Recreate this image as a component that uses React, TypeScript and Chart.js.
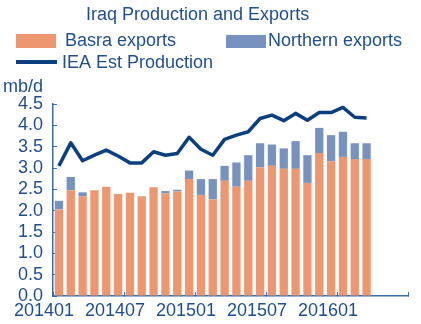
import React, { useEffect, useRef } from 'react';
import { Chart, registerables } from 'chart.js';

Chart.register(...registerables);

const TITLE = 'Iraq Production and Exports';
const UNIT = 'mb/d';

const months = [
  '201401', '201402', '201403', '201404', '201405', '201406',
  '201407', '201408', '201409', '201410', '201411', '201412',
  '201501', '201502', '201503', '201504', '201505', '201506',
  '201507', '201508', '201509', '201510', '201511', '201512',
  '201601', '201602', '201603', '201604', '201605', '201606',
];

const basraExports = [
  2.03, 2.48, 2.34, 2.48, 2.56, 2.39, 2.42, 2.34, 2.55, 2.41, 2.45, 2.74,
  2.37, 2.27, 2.70, 2.56, 2.70, 3.02, 3.05, 2.98, 2.98, 2.65, 3.35, 3.16,
  3.26, 3.21, 3.21,
];

const northernExports = [
  0.20, 0.31, 0.09, 0, 0, 0, 0, 0, 0, 0.05, 0.04, 0.20,
  0.37, 0.47, 0.35, 0.57, 0.60, 0.56, 0.50, 0.48, 0.65, 0.65, 0.59, 0.61,
  0.59, 0.37, 0.37,
];

const ieaProduction = [
  3.05, 3.59, 3.17, 3.30, 3.42, 3.28, 3.12, 3.12, 3.38, 3.30, 3.34, 3.72,
  3.44, 3.30, 3.67, 3.77, 3.85, 4.16, 4.24, 4.11, 4.28, 4.12, 4.30, 4.30,
  4.42, 4.19, 4.17,
];

const FONT = 'Arial, "Liberation Sans", sans-serif';
const TEXT_COLOR = '#1f4e8e';
const AXIS_COLOR = '#3a6cb0';
const BASRA_COLOR = '#ee9670';
const NORTH_COLOR = '#7892c0';
const LINE_COLOR = '#0b3f80';

const overlayPlugin = {
  id: 'overlayText',
  afterDraw(chart: any) {
    const ctx = chart.ctx as CanvasRenderingContext2D;
    const ds = chart.data.datasets;
    ctx.save();
    ctx.font = `18px ${FONT}`;
    ctx.textAlign = 'left';
    ctx.textBaseline = 'alphabetic';
    ctx.fillStyle = TEXT_COLOR;
    ctx.fillText(TITLE, 86, 20);

    // legend row 1
    ctx.fillStyle = BASRA_COLOR;
    ctx.fillRect(16, 34, 40, 14);
    ctx.fillStyle = TEXT_COLOR;
    ctx.fillText(ds[0].label, 65, 46);

    ctx.fillStyle = NORTH_COLOR;
    ctx.fillRect(226, 35, 40, 13);
    ctx.fillStyle = TEXT_COLOR;
    ctx.fillText(ds[1].label, 268, 46);

    // legend row 2
    ctx.strokeStyle = LINE_COLOR;
    ctx.lineWidth = 4;
    ctx.beginPath();
    ctx.moveTo(16, 62);
    ctx.lineTo(57, 62);
    ctx.stroke();
    ctx.fillStyle = TEXT_COLOR;
    ctx.fillText(ds[2].label, 62, 68);

    // unit label
    ctx.fillText(UNIT, 3, 92);
    ctx.restore();
  },
};

export default function App() {
  const canvasRef = useRef<HTMLCanvasElement | null>(null);

  useEffect(() => {
    const canvas = canvasRef.current;
    if (!canvas) return;
    const chart = new Chart(canvas, {
      type: 'bar',
      data: {
        labels: months,
        datasets: [
          {
            type: 'bar',
            label: 'Basra exports',
            data: basraExports,
            backgroundColor: BASRA_COLOR,
            stack: 'exports',
            order: 2,
            categoryPercentage: 1,
            barPercentage: 0.7,
          },
          {
            type: 'bar',
            label: 'Northern exports',
            data: northernExports,
            backgroundColor: NORTH_COLOR,
            stack: 'exports',
            order: 2,
            categoryPercentage: 1,
            barPercentage: 0.7,
          },
          {
            type: 'line',
            label: 'IEA Est Production',
            data: ieaProduction,
            borderColor: LINE_COLOR,
            backgroundColor: LINE_COLOR,
            borderWidth: 3.5,
            pointRadius: 0,
            tension: 0,
            stack: 'production',
            order: 0,
            borderJoinStyle: 'round',
          } as any,
        ],
      },
      options: {
        animation: false,
        responsive: false,
        devicePixelRatio: 1,
        layout: { padding: { top: 104, right: 13, bottom: 0, left: 0 } },
        plugins: {
          legend: { display: false },
          title: { display: false },
          tooltip: { enabled: false },
        },
        scales: {
          x: {
            type: 'category',
            stacked: true,
            offset: true,
            border: { display: true, color: AXIS_COLOR, width: 1.5 },
            grid: {
              offset: true,
              drawOnChartArea: false,
              drawTicks: true,
              tickLength: -4,
              lineWidth: 1,
              color: (c: any) =>
                c.index === undefined || c.index % 6 === 0 ? AXIS_COLOR : 'rgba(0,0,0,0)',
            },
            ticks: {
              autoSkip: false,
              maxRotation: 0,
              minRotation: 0,
              padding: 8,
              labelOffset: -15,
              color: TEXT_COLOR,
              font: { family: FONT, size: 18 },
              callback: (_v: any, i: number) => (i % 6 === 0 ? months[i] : ''),
            },
            afterFit: (s: any) => {
              s.height = 28;
            },
          },
          y: {
            stacked: true,
            min: 0,
            max: 4.5,
            border: { display: true, color: AXIS_COLOR, width: 1.5 },
            grid: {
              drawOnChartArea: false,
              drawTicks: true,
              tickLength: -4,
              lineWidth: 1,
              color: AXIS_COLOR,
            },
            ticks: {
              stepSize: 0.5,
              autoSkip: false,
              padding: 14,
              color: TEXT_COLOR,
              font: { family: FONT, size: 18 },
              callback: (v: any) => Number(v).toFixed(1),
            },
            afterFit: (s: any) => {
              s.width = 53;
            },
          },
        },
      },
      plugins: [overlayPlugin],
    });
    return () => chart.destroy();
  }, []);

  return (
    <div style={{ position: 'fixed', left: 0, top: 0, width: 421, height: 324, background: '#fff' }}>
      <canvas ref={canvasRef} width={421} height={324} style={{ display: 'block' }} />
    </div>
  );
}
